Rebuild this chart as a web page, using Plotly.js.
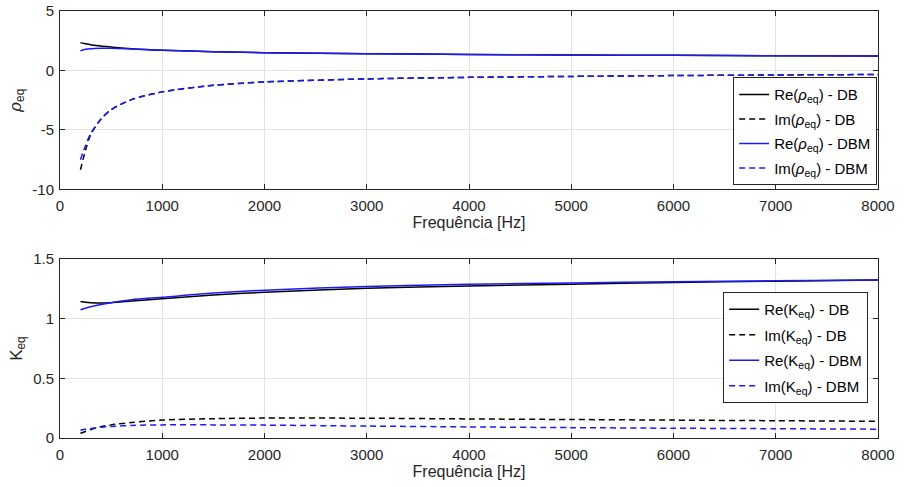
<!DOCTYPE html>
<html><head><meta charset="utf-8">
<script src="https://cdn.plot.ly/plotly-3.0.1.min.js"></script>
<style>html,body{margin:0;padding:0;background:#fff}</style>
</head><body><div id="plot" style="width:906px;height:487px"></div>
<script>
const freq = [200,250,300,400,500,700,1000,1500,2000,3000,4000,5000,6000,7000,8000];
// top: rho_eq
const rhoReDB  = [2.34,2.25,2.17,2.05,1.97,1.83,1.70,1.58,1.50,1.41,1.35,1.30,1.27,1.24,1.22];
const rhoImDB  = [-8.35,-6.7,-5.4,-4.1,-3.3,-2.45,-1.8,-1.25,-0.97,-0.71,-0.58,-0.5,-0.43,-0.38,-0.34];
const rhoReDBM = [1.66,1.78,1.83,1.86,1.86,1.80,1.70,1.58,1.50,1.41,1.35,1.30,1.27,1.24,1.22];
const rhoImDBM = [-7.5,-6.3,-5.3,-4.1,-3.3,-2.45,-1.8,-1.25,-0.97,-0.71,-0.58,-0.5,-0.43,-0.38,-0.34];
// bottom: K_eq
const kReDB  = [1.145,1.138,1.134,1.132,1.135,1.148,1.168,1.20,1.222,1.255,1.275,1.29,1.305,1.315,1.325];
const kImDB  = [0.04,0.055,0.07,0.095,0.11,0.13,0.15,0.162,0.167,0.166,0.16,0.155,0.15,0.145,0.14];
const kReDBM = [1.075,1.088,1.10,1.12,1.135,1.16,1.18,1.215,1.24,1.27,1.29,1.30,1.31,1.318,1.325];
const kImDBM = [0.065,0.073,0.08,0.09,0.097,0.105,0.11,0.11,0.108,0.10,0.093,0.087,0.082,0.078,0.074];

const xTicks = [0,1000,2000,3000,4000,5000,6000,7000,8000];
const rhoTicks = [-10,-5,0,5];
const kTicks = [0,0.5,1,1.5];

const BLK = '#000000', BLU = '#1a1aff';
const dashS = '6px,4px';
let gid = 0;
function tr(x, y, name, color, dash, xa, ya, leg) {
  gid++;
  return {x: x, y: y, name: name, type: 'scatter', mode: 'lines', legendgroup: 'g' + gid,
    line: {color: color, width: 1.5, dash: dash, shape: 'spline', smoothing: 0.8},
    xaxis: xa, yaxis: ya, legend: leg};
}
const data = [
  tr(freq, rhoReDB, 'Re(<i>ρ</i><sub>eq</sub>) - DB', BLK, 'solid', 'x', 'y', 'legend'),
  tr(freq, rhoImDB, 'Im(<i>ρ</i><sub>eq</sub>) - DB', BLK, dashS, 'x', 'y', 'legend'),
  tr(freq, rhoReDBM, 'Re(<i>ρ</i><sub>eq</sub>) - DBM', BLU, 'solid', 'x', 'y', 'legend'),
  tr(freq, rhoImDBM, 'Im(<i>ρ</i><sub>eq</sub>) - DBM', BLU, dashS, 'x', 'y', 'legend'),
  tr(freq, kReDB, 'Re(K<sub>eq</sub>) - DB', BLK, 'solid', 'x2', 'y2', 'legend2'),
  tr(freq, kImDB, 'Im(K<sub>eq</sub>) - DB', BLK, dashS, 'x2', 'y2', 'legend2'),
  tr(freq, kReDBM, 'Re(K<sub>eq</sub>) - DBM', BLU, 'solid', 'x2', 'y2', 'legend2'),
  tr(freq, kImDBM, 'Im(K<sub>eq</sub>) - DBM', BLU, dashS, 'x2', 'y2', 'legend2')
];
const axC = '#262626';
function xax(anchor) {
  return {domain: [0,1], anchor: anchor, range: [0,8000], tickvals: xTicks, ticktext: xTicks.map(String),
    showgrid: true, gridcolor: '#e3e3e3', gridwidth: 1, zeroline: false,
    showline: true, linecolor: axC, linewidth: 1, mirror: 'ticks', ticks: 'inside', ticklen: 5, tickcolor: axC,
    ticklabelstandoff: 3,
    tickfont: {size: 15, color: axC}, title: {text: 'Frequência [Hz]', font: {size: 16, color: axC}, standoff: 2}};
}
function yax(anchor, dom, rng, tv, title) {
  return {domain: dom, anchor: anchor, range: rng, tickvals: tv, ticktext: tv.map(String),
    showgrid: true, gridcolor: '#e3e3e3', gridwidth: 1, zeroline: false,
    showline: true, linecolor: axC, linewidth: 1, mirror: 'ticks', ticks: 'inside', ticklen: 5, tickcolor: axC,
    ticklabelstandoff: 2,
    tickfont: {size: 15, color: axC}, title: {text: title, font: {size: 17, color: axC}, standoff: 6}};
}
const legBase = {bgcolor: '#ffffff', bordercolor: axC, borderwidth: 1, font: {size: 15, color: '#000'},
  xanchor: 'right', yanchor: 'top', itemwidth: 30};
const layout = {
  width: 906, height: 487, paper_bgcolor: '#fff', plot_bgcolor: '#fff',
  font: {family: 'Liberation Sans, Arial, sans-serif', color: axC},
  margin: {l: 60, r: 28, t: 11, b: 49},
  showlegend: true,
  xaxis: xax('y'),
  yaxis: yax('x', [0.5822, 1], [-10, 5], rhoTicks, '<i>ρ</i><sub>eq</sub>'),
  xaxis2: xax('y2'),
  yaxis2: yax('x2', [0, 0.4189], [0, 1.5], kTicks, 'K<sub>eq</sub>'),
  legend: Object.assign({}, legBase, {x: 0.999, y: 0.845, tracegroupgap: 2}),
  legend2: Object.assign({}, legBase, {x: 0.988, y: 0.342, tracegroupgap: 3})
};
Plotly.newPlot('plot', data, layout, {displayModeBar: false, staticPlot: true});
</script></body></html>
